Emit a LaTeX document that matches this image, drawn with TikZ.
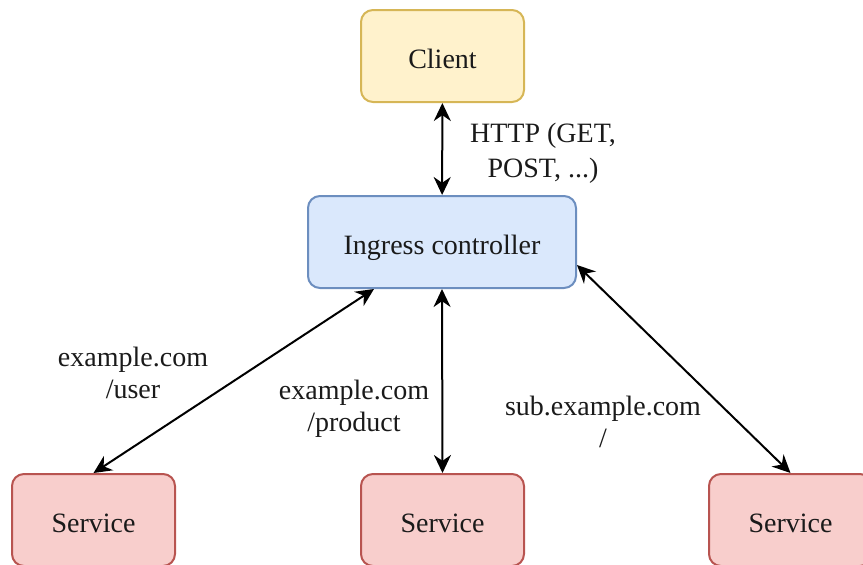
\documentclass[tikz,border=0pt]{standalone}
\usepackage{fontspec}
\setmainfont{Liberation Serif}
\usepackage{xcolor}
\usetikzlibrary{positioning, arrows.meta}

\definecolor{clientfill}{HTML}{FFF2CC}
\definecolor{clientline}{HTML}{D6B656}
\definecolor{ingressfill}{HTML}{DAE8FC}
\definecolor{ingressline}{HTML}{6C8EBF}
\definecolor{servicefill}{HTML}{F8CECC}
\definecolor{serviceline}{HTML}{B85450}
\definecolor{textgray}{HTML}{1A1A1A}

\begin{document}
\begin{tikzpicture}[
        x=0.5pt, y=-0.5pt,
        box/.style={rectangle, rounded corners=6pt, line width=1pt, minimum width=81.5pt, minimum height=46pt, align=center, text height=12.5pt, text depth=0pt, text=textgray, font=\fontsize{14}{16}\selectfont},
        clientbox/.style={box, draw=clientline, fill=clientfill},
        ingressbox/.style={box, draw=ingressline, fill=ingressfill, minimum width=134pt},
        servicebox/.style={box, draw=serviceline, fill=servicefill},
        lbl/.style={align=center, inner sep=0pt, text=textgray, font=\fontsize{14}{16}\selectfont},
        link/.style={{Stealth[length=9pt, width=8.5pt]}-{Stealth[length=9pt, width=8.5pt]}, line width=1pt}
    ]
    \useasboundingbox (0,0) rectangle (863,564);

    % Cajas
    \node[clientbox] (client) at (442.5,56) {Client};
    \node[ingressbox] (ingress) at (442,242) {Ingress controller};
    \node[servicebox] (srvuser) at (93.5,520) {Service};
    \node[servicebox] (srvprod) at (442.5,520) {Service};
    \node[servicebox] (srvsub) at (790.5,520) {Service};

    % Flechas
    \draw[link] (client) -- (ingress);
    \draw[link] ([xshift=33.5pt]ingress.south west) -- (srvuser.north);
    \draw[link] (ingress.south) -- (srvprod.north);
    \draw[link] ([yshift=-11.5pt]ingress.east) -- (srvsub.north);

    % Etiquetas
    \node[lbl, font=\fontsize{14}{17.5}\selectfont] (lblhttp) at (543,153) {HTTP (GET,\\POST, ...)};
    \node[lbl] (lbluser) at (133,373) {example.com\\/user};
    \node[lbl] (lblprod) at (354,409) {example.com\\/product};
    \node[lbl] (lblsub) at (603,422) {sub.example.com\\/};
\end{tikzpicture}
\end{document}
